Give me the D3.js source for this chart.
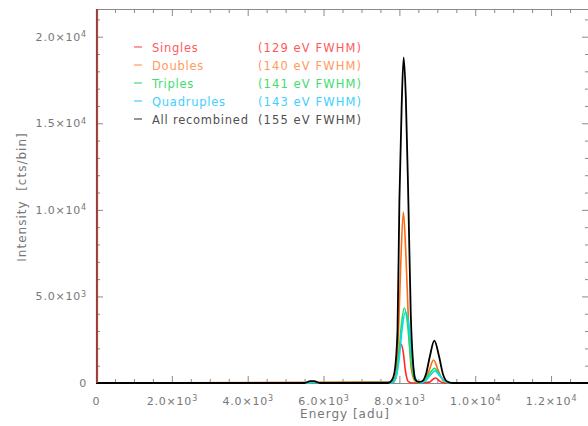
<!DOCTYPE html>
<html>
<head>
<meta charset="utf-8">
<script src="https://cdn.jsdelivr.net/npm/d3@7"></script>
<style>
  body { margin: 0; background: #fff; }
  text { font-family: "DejaVu Sans", sans-serif; }
</style>
</head>
<body>
<svg id="chart" width="588" height="426"></svg>
<script>
// spectrum values: energy [adu] and counts [cts/bin]
const singlesE = [0, 15, 5000, 7850, 7930, 7990, 8040, 8100, 8160, 8230, 8350, 8800, 8900, 8960, 9050, 9200, 13000];
const singlesC = [30000, 0, 0, 50, 600, 1800, 2250, 1800, 700, 100, 0, 50, 250, 290, 120, 0, 0];

const doublesE = [0, 7800, 7900, 7970, 8030, 8105, 8170, 8240, 8310, 8400, 8500, 8650, 8780, 8900, 9020, 9150, 9300, 13000];
const doublesC = [0, 50, 400, 2500, 6500, 9880, 7500, 3500, 900, 150, 30, 150, 700, 1330, 750, 150, 0, 0];

const triplesE = [0, 7800, 7900, 7980, 8050, 8130, 8210, 8290, 8370, 8450, 8550, 8700, 8850, 8930, 9050, 9200, 9350, 13000];
const triplesC = [0, 30, 300, 1500, 3300, 4335, 3500, 1600, 400, 60, 20, 250, 700, 850, 500, 100, 0, 0];

const quadsE = [0, 5600, 5700, 5800, 5900, 7800, 7900, 7990, 8070, 8160, 8240, 8320, 8400, 8480, 8580, 8720, 8860, 8940, 9060, 9210, 9360, 13000];
const quadsC = [0, 0, 40, 40, 0, 20, 250, 1300, 3100, 4100, 3500, 1700, 450, 80, 20, 200, 560, 700, 420, 80, 0, 0];

const allE = [0, 5500, 5650, 5750, 5900, 7700, 7800, 7870, 7950, 8000, 8060, 8113, 8170, 8237, 8300, 8370, 8420, 8500, 8600, 8700, 8800, 8921, 9050, 9150, 9250, 9400, 13000];
const allC = [0, 0, 110, 110, 0, 0, 150, 600, 3000, 10500, 16000, 18800, 16500, 10500, 4000, 900, 200, 60, 100, 500, 1500, 2450, 1500, 500, 100, 0, 0];

const seriesNames = ["Singles", "Doubles", "Triples", "Quadruples", "All recombined"];
const fwhmLabels = ["(129 eV FWHM)", "(140 eV FWHM)", "(141 eV FWHM)", "(143 eV FWHM)", "(155 eV FWHM)"];
const lineColors = ["#ff2a2a", "#ff6a10", "#22dd55", "#00dcf0", "#000000"];
const textColors = ["#ff5a5a", "#ff9a60", "#40dd70", "#40d0ff", "#505050"];

const xMajor = [0, 2000, 4000, 6000, 8000, 10000, 12000];
const yMajor = [0, 5000, 10000, 15000, 20000];

const svg = d3.select("#chart");
const mLeft = 96, mRight = 589, mTop = 9, mBottom = 383;

const x = d3.scaleLinear().domain([0, 13000]).range([mLeft, mRight]);
const y = d3.scaleLinear().domain([0, 21600]).range([mBottom, mTop]);

svg.append("clipPath").attr("id", "plotClip")
  .append("rect")
  .attr("x", mLeft).attr("y", mTop)
  .attr("width", mRight - mLeft).attr("height", mBottom - mTop + 2);

// tick label like 2.0×10⁴
function sciLabel(sel) {
  sel.each(function(d) {
    const t = d3.select(this).text(null);
    if (d === 0) { t.text("0"); return; }
    const e = Math.floor(Math.log10(d));
    const m = (d / Math.pow(10, e)).toFixed(1);
    t.append("tspan").text(m + "×10");
    t.append("tspan").attr("dy", "-0.45em").attr("font-size", "8px").text(e);
  });
}

const axisGrey = "#8a8a8a";
function styleAxis(g) {
  g.select(".domain").attr("stroke", axisGrey);
  g.selectAll(".tick line").attr("stroke", axisGrey);
  g.selectAll("text").attr("fill", "#777777")
    .attr("font-size", "11px").attr("letter-spacing", "0.8px");
}

const minorX = d3.range(0, 13001, 500).filter(v => v % 2000 !== 0);
const minorY = d3.range(0, 21601, 1000).filter(v => v % 5000 !== 0);

// bottom axis
svg.append("g").attr("transform", `translate(0,${mBottom})`)
  .call(d3.axisBottom(x).tickValues(minorX).tickSize(-4).tickSizeOuter(0).tickFormat(""))
  .call(styleAxis);
svg.append("g").attr("transform", `translate(0,${mBottom})`)
  .call(d3.axisBottom(x).tickValues(xMajor).tickSize(-7).tickSizeOuter(0).tickPadding(14))
  .call(g => g.selectAll(".tick text").call(sciLabel))
  .call(styleAxis);

// top axis
svg.append("g").attr("transform", `translate(0,${mTop})`)
  .call(d3.axisTop(x).tickValues(minorX).tickSize(-4).tickSizeOuter(0).tickFormat(""))
  .call(styleAxis);
svg.append("g").attr("transform", `translate(0,${mTop})`)
  .call(d3.axisTop(x).tickValues(xMajor).tickSize(-7).tickSizeOuter(0).tickFormat(""))
  .call(styleAxis);

// left axis
svg.append("g").attr("transform", `translate(${mLeft},0)`)
  .call(d3.axisLeft(y).tickValues(minorY).tickSize(-4).tickSizeOuter(0).tickFormat(""))
  .call(styleAxis);
svg.append("g").attr("transform", `translate(${mLeft},0)`)
  .call(d3.axisLeft(y).tickValues(yMajor).tickSize(-7).tickSizeOuter(0).tickPadding(9))
  .call(g => g.selectAll(".tick text").call(sciLabel))
  .call(styleAxis);

// right axis
svg.append("g").attr("transform", `translate(${mRight},0)`)
  .call(d3.axisRight(y).tickValues(minorY).tickSize(-4).tickSizeOuter(0).tickFormat(""))
  .call(styleAxis);
svg.append("g").attr("transform", `translate(${mRight},0)`)
  .call(d3.axisRight(y).tickValues(yMajor).tickSize(-7).tickSizeOuter(0).tickFormat(""))
  .call(styleAxis);

// spectra (black last so it sits on top along the baseline)
const line = d3.line()
  .x(d => x(d[0]))
  .y(d => y(d[1]))
  .curve(d3.curveMonotoneX);

const series = [
  { E: singlesE, C: singlesC, color: lineColors[0], w: 1.6 },
  { E: doublesE, C: doublesC, color: lineColors[1], w: 1.6 },
  { E: triplesE, C: triplesC, color: lineColors[2], w: 1.6 },
  { E: quadsE, C: quadsC, color: lineColors[3], w: 1.6 },
  { E: allE, C: allC, color: lineColors[4], w: 1.8 }
];

const plot = svg.append("g").attr("clip-path", "url(#plotClip)");
series.forEach(s => {
  plot.append("path")
    .datum(s.E.map((e, i) => [e, s.C[i]]))
    .attr("fill", "none")
    .attr("stroke", s.color)
    .attr("stroke-width", s.w)
    .attr("stroke-linejoin", "round")
    .attr("d", line);
});

// the singles spike at zero energy runs up the left axis, giving it a dark red edge
svg.append("line")
  .attr("x1", mLeft + 1).attr("x2", mLeft + 1)
  .attr("y1", mTop).attr("y2", mBottom)
  .attr("stroke", "#9a3a36").attr("stroke-width", 2.2).attr("opacity", 0.9);

// legend
const legend = svg.append("g");
seriesNames.forEach((name, i) => {
  const cy = 47 + i * 18;
  legend.append("line")
    .attr("x1", 134).attr("x2", 142)
    .attr("y1", cy).attr("y2", cy)
    .attr("stroke", textColors[i]).attr("stroke-width", 1.2);
  legend.append("text")
    .attr("x", 152).attr("y", cy + 4.5)
    .attr("font-size", "11.5px").attr("letter-spacing", "0.75px")
    .attr("fill", textColors[i]).text(name);
  legend.append("text")
    .attr("x", 258).attr("y", cy + 4.5)
    .attr("font-size", "11.5px").attr("letter-spacing", "1.1px")
    .attr("fill", textColors[i]).text(fwhmLabels[i]);
});

// axis titles
svg.append("text")
  .attr("x", 345).attr("y", 418)
  .attr("text-anchor", "middle")
  .attr("font-size", "12px").attr("letter-spacing", "1px")
  .attr("fill", "#777777")
  .text("Energy [adu]");

svg.append("text")
  .attr("transform", "translate(26,197) rotate(-90)")
  .attr("text-anchor", "middle")
  .attr("font-size", "12px").attr("letter-spacing", "1px")
  .attr("fill", "#777777")
  .attr("xml:space", "preserve")
  .text("Intensity  [cts/bin]");
</script>
</body>
</html>
